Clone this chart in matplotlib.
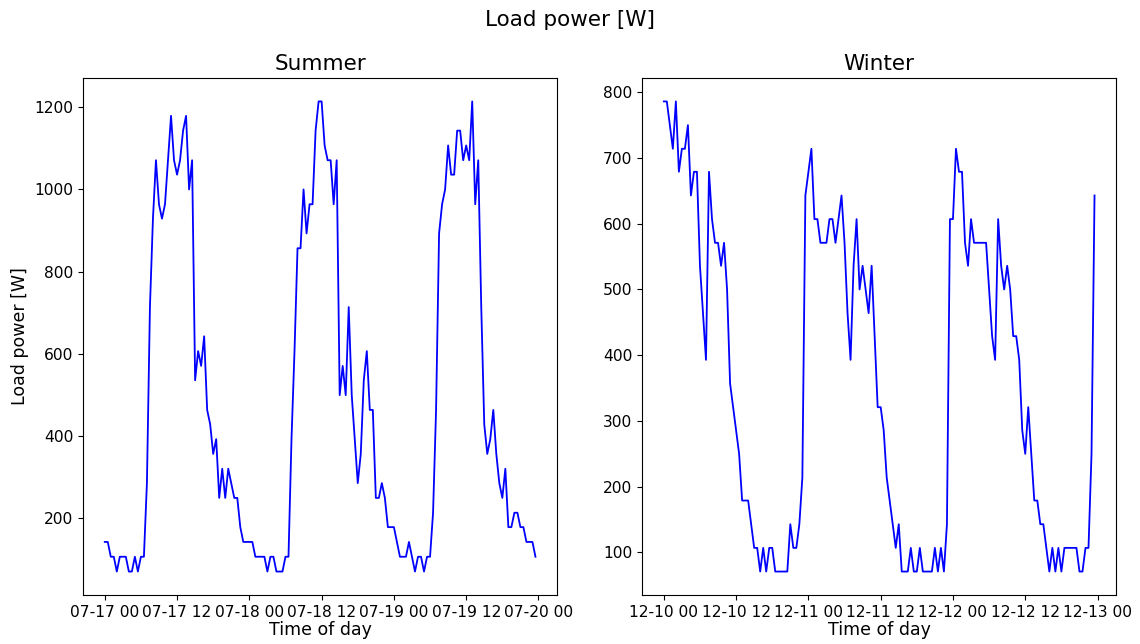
import matplotlib
matplotlib.use("Agg")
import matplotlib.pyplot as plt
import matplotlib.dates as mdates
import pandas as pd

# half-hourly load readings [W], one list per day
summer_day1 = [143, 143, 107, 107, 71, 107, 107, 107, 71, 71,
               107, 71, 107, 107, 286, 714, 929, 1071, 964, 929,
               964, 1071, 1179, 1071, 1036, 1071, 1143, 1179, 1000, 1071,
               536, 607, 571, 643, 464, 429, 357, 393, 250, 321,
               250, 321, 286, 250, 250, 179, 143, 143]
summer_day2 = [143, 143, 107, 107, 107, 107, 71, 107, 107, 71,
               71, 71, 107, 107, 393, 607, 857, 857, 1000, 893,
               964, 964, 1143, 1214, 1214, 1107, 1071, 1071, 964, 1071,
               500, 571, 500, 714, 500, 393, 286, 357, 536, 607,
               464, 464, 250, 250, 286, 250, 179, 179]
summer_day3 = [179, 143, 107, 107, 107, 143, 107, 71, 107, 107,
               71, 107, 107, 214, 464, 893, 964, 1000, 1107, 1036,
               1036, 1143, 1143, 1071, 1107, 1071, 1214, 964, 1071, 714,
               429, 357, 393, 464, 357, 286, 250, 321, 179, 179,
               214, 214, 179, 179, 143, 143, 143, 107]

winter_day1 = [786, 786, 750, 714, 786, 679, 714, 714, 750, 643,
               679, 679, 536, 464, 393, 679, 607, 571, 571, 536,
               571, 500, 357, 321, 286, 250, 179, 179, 179, 143,
               107, 107, 71, 107, 71, 107, 107, 71, 71, 71,
               71, 71, 143, 107, 107, 143, 214, 643]
winter_day2 = [679, 714, 607, 607, 571, 571, 571, 607, 607, 571,
               607, 643, 571, 464, 393, 536, 607, 500, 536, 500,
               464, 536, 429, 321, 321, 286, 214, 179, 143, 107,
               143, 71, 71, 71, 107, 71, 71, 107, 71, 71,
               71, 71, 107, 71, 107, 71, 143, 607]
winter_day3 = [607, 714, 679, 679, 571, 536, 607, 571, 571, 571,
               571, 571, 500, 429, 393, 607, 536, 500, 536, 500,
               429, 429, 393, 286, 250, 321, 250, 179, 179, 143,
               143, 107, 71, 107, 71, 107, 71, 107, 107, 107,
               107, 107, 71, 71, 107, 107, 250, 643]

summer_load = summer_day1 + summer_day2 + summer_day3
winter_load = winter_day1 + winter_day2 + winter_day3

summer_time = pd.date_range("2019-07-17 00:00", periods=len(summer_load), freq="30min")
winter_time = pd.date_range("2019-12-10 00:00", periods=len(winter_load), freq="30min")

fig, (ax1, ax2) = plt.subplots(1, 2, figsize=(11.4, 6.44), dpi=100)
fig.subplots_adjust(left=0.073, right=0.979, top=0.879, bottom=0.076, wspace=0.18)

for ax, t, y, name in [(ax1, summer_time, summer_load, "Summer"),
                       (ax2, winter_time, winter_load, "Winter")]:
    ax.plot(t, y, color="blue", linewidth=1.3)
    ax.set_title(name, fontsize=15.5)
    ax.set_xlabel("Time of day", fontsize=12.5, labelpad=1)
    ax.xaxis.set_major_locator(mdates.HourLocator(byhour=[0, 12]))
    ax.xaxis.set_major_formatter(mdates.DateFormatter("%m-%d %H"))
    ax.tick_params(labelsize=11.2)

ax1.set_ylabel("Load power [W]", fontsize=12.5)
fig.suptitle("Load power [W]", fontsize=15.5, y=0.985)

fig.savefig("out.png", dpi=100)
